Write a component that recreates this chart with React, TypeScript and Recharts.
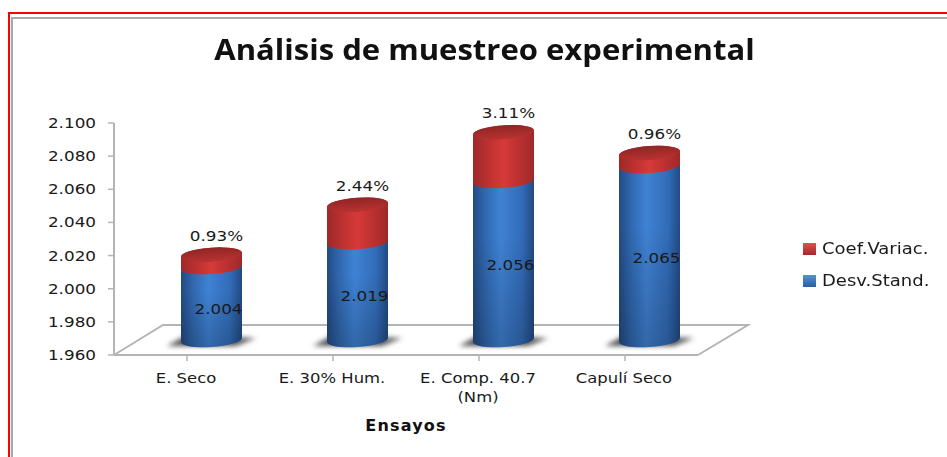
import { Bar, BarChart, Customized, LabelList, Legend, XAxis, YAxis } from "recharts";

const categories = ["E. Seco", "E. 30% Hum.", "E. Comp. 40.7|(Nm)", "Capulí Seco"];
const desvStand = [2.004, 2.019, 2.056, 2.065];
const coefVariac = [0.93, 2.44, 3.11, 0.96];
const yTicks = [1.96, 1.98, 2.0, 2.02, 2.04, 2.06, 2.08, 2.1];

const data = categories.map((name, i) => ({
  name,
  desv: desvStand[i],
  coef: coefVariac[i] / 100,
}));

const AXIS = "#b4b4b4";
const TEXT = "#1a1a1a";
const FONT = "'DejaVu Sans', sans-serif";
const STRETCH = 1.2;
const PLOT_BOTTOM = 355;
// the bars stand in the middle of the 3D floor
const DEPTH_X = 24;
const DEPTH_Y = 15;
const TILT = 2;
const RY = 7;
// perspective pulls the top cap down a little
const CAP_DROP = 3;

function wideText(x: number, y: number, label: string, anchor: "start" | "middle" | "end", size = 14) {
  return (
    <text
      transform={`translate(${x},${y}) scale(${STRETCH},1)`}
      textAnchor={anchor}
      fontFamily={FONT}
      fontSize={size}
      fill={TEXT}
    >
      {label}
    </text>
  );
}

function cylinderPath(left: number, right: number, top: number, bottom: number, rx: number) {
  const arc = `A${rx} ${RY} -4 0 0`;
  return (
    `M${left} ${top + TILT}L${left} ${bottom + TILT}${arc} ${right} ${bottom - TILT}` +
    `L${right} ${top - TILT}${arc} ${left} ${top + TILT}Z`
  );
}

function Cylinder(props: any) {
  const { x, y, width, height, dataKey } = props;
  const left = x + DEPTH_X;
  const right = left + width;
  const rx = width / 2;
  const bottom = Math.min(y + height, PLOT_BOTTOM) - DEPTH_Y;
  if (dataKey === "desv") {
    const top = y - DEPTH_Y;
    const body = cylinderPath(left, right, top, bottom, rx);
    return (
      <g>
        <path
          d={`M${left - 14} ${bottom + 6}L${left + 4} ${bottom - 4}L${right + 14} ${bottom - 2}L${right - 6} ${bottom + 6}Z`}
          fill="#555"
          filter="url(#floorShadow)"
        />
        <path d={body} fill="url(#blueBody)" />
        <path d={body} fill="url(#blueShade)" />
      </g>
    );
  }
  const top = y - DEPTH_Y + CAP_DROP;
  return (
    <g>
      <path d={cylinderPath(left, right, top, bottom, rx)} fill="url(#redBody)" />
      <ellipse
        cx={left + rx}
        cy={top}
        rx={rx}
        ry={RY}
        transform={`rotate(-4 ${left + rx} ${top})`}
        fill="url(#redTop)"
      />
    </g>
  );
}

function DesvLabel(props: any) {
  const { x, y, width, height, value } = props;
  const bottom = Math.min(y + height, PLOT_BOTTOM);
  return wideText(x + width / 2 + DEPTH_X + 7, (y + bottom) / 2 - DEPTH_Y + 10, value.toFixed(3), "middle");
}

function CoefLabel(props: any) {
  const { x, y, width, value } = props;
  return wideText(x + width / 2 + DEPTH_X + 5, y - DEPTH_Y + CAP_DROP - 14, `${(value * 100).toFixed(2)}%`, "middle");
}

function YTick({ x, y, payload }: any) {
  return wideText(x - 10, y + 5, payload.value.toFixed(3), "end");
}

function XTick({ x, y, payload }: any) {
  const lines = String(payload.value).split("|");
  return (
    <g>
      {lines.map((line, i) => (
        <g key={line}>{wideText(x - 1, y + 20 + i * 19, line, "middle", 13.7)}</g>
      ))}
    </g>
  );
}

function Floor() {
  return (
    <path
      d="M114 355L163 325L748 325L698 355"
      fill="none"
      stroke={AXIS}
      strokeWidth={2}
    />
  );
}

function LegendContent({ payload }: any) {
  return (
    <div>
      {(payload ?? []).map((item: any) => (
        <div key={item.value} style={{ display: "flex", alignItems: "center", height: 32 }}>
          <span
            style={{
              width: 13,
              height: 12,
              marginRight: 6,
              background: `linear-gradient(${item.color === "#c0302f" ? "#e05050, #a52828" : "#4f94dc, #2c5f9e"})`,
            }}
          />
          <span
            style={{
              fontFamily: FONT,
              fontSize: 15,
              color: TEXT,
              transform: `scaleX(${STRETCH})`,
              transformOrigin: "left",
              whiteSpace: "nowrap",
            }}
          >
            {item.value}
          </span>
        </div>
      ))}
    </div>
  );
}

export default function App() {
  return (
    <div style={{ position: "absolute", left: 0, top: 0, width: 947, height: 457, overflow: "hidden", background: "#fff" }}>
      <div style={{ position: "absolute", left: 8, top: 12, width: 960, height: 470, borderTop: "2px solid #f00", borderLeft: "2px solid #f00" }} />
      <div style={{ position: "absolute", left: 11, top: 17, width: 960, height: 470, borderTop: "2px solid #a8a8a8", borderLeft: "2px solid #a8a8a8" }} />
      <div
        style={{
          position: "absolute",
          left: 214,
          top: 29,
          width: 541,
          textAlign: "center",
          fontFamily: "'Open Sans', sans-serif",
          fontWeight: 700,
          fontSize: 29,
          whiteSpace: "nowrap",
          color: "#111",
          transform: "scaleX(1.07)",
        }}
      >
        Análisis de muestreo experimental
      </div>
      <BarChart
        width={947}
        height={457}
        data={data}
        barSize={61}
        margin={{ top: 123, right: 249, left: 54, bottom: 42 }}
        style={{ position: "absolute", left: 0, top: 0 }}
      >
        <defs>
          <linearGradient id="blueBody" x1="0" x2="1" y1="0" y2="0">
            <stop offset="0" stopColor="#234a82" />
            <stop offset="0.2" stopColor="#3068b0" />
            <stop offset="0.45" stopColor="#3f82d4" />
            <stop offset="0.8" stopColor="#326cb8" />
            <stop offset="1" stopColor="#224a82" />
          </linearGradient>
          <linearGradient id="blueShade" x1="0" x2="0" y1="0" y2="1">
            <stop offset="0.35" stopColor="#000" stopOpacity="0" />
            <stop offset="1" stopColor="#000" stopOpacity="0.2" />
          </linearGradient>
          <linearGradient id="redBody" x1="0" x2="1" y1="0" y2="0">
            <stop offset="0" stopColor="#a02828" />
            <stop offset="0.5" stopColor="#d63a38" />
            <stop offset="1" stopColor="#a02828" />
          </linearGradient>
          <linearGradient id="redTop" x1="0" x2="0" y1="0" y2="1">
            <stop offset="0" stopColor="#8f2624" />
            <stop offset="1" stopColor="#b93230" />
          </linearGradient>
          <filter id="floorShadow" x="-20%" y="-50%" width="140%" height="200%">
            <feGaussianBlur stdDeviation="2.5" />
          </filter>
        </defs>
        <Customized component={Floor} />
        <XAxis
          dataKey="name"
          height={60}
          interval={0}
          tick={<XTick />}
          axisLine={{ stroke: AXIS, strokeWidth: 2 }}
          tickLine={{ stroke: AXIS, strokeWidth: 1.5 }}
          tickSize={6}
          label={{
            value: "Ensayos",
            position: "insideBottom",
            offset: -16,
            style: { fontFamily: FONT, fontWeight: 700, fontSize: 16, letterSpacing: 1.2, fill: "#111" },
          }}
        />
        <YAxis
          width={60}
          domain={[1.96, 2.1]}
          ticks={yTicks}
          allowDataOverflow
          tick={<YTick />}
          axisLine={{ stroke: AXIS, strokeWidth: 2 }}
          tickLine={{ stroke: AXIS, strokeWidth: 1.5 }}
          tickSize={6}
        />
        <Legend
          layout="vertical"
          align="center"
          verticalAlign="middle"
          content={<LegendContent />}
          wrapperStyle={{ position: "absolute", left: 803, top: 233, width: 140 }}
        />
        <Bar
          dataKey="desv"
          name="Desv.Stand."
          stackId="a"
          fill="#3470bd"
          shape={<Cylinder />}
          isAnimationActive={false}
        >
          <LabelList dataKey="desv" content={<DesvLabel />} />
        </Bar>
        <Bar
          dataKey="coef"
          name="Coef.Variac."
          stackId="a"
          fill="#c0302f"
          shape={<Cylinder />}
          isAnimationActive={false}
        >
          <LabelList dataKey="coef" content={<CoefLabel />} />
        </Bar>
      </BarChart>
    </div>
  );
}
